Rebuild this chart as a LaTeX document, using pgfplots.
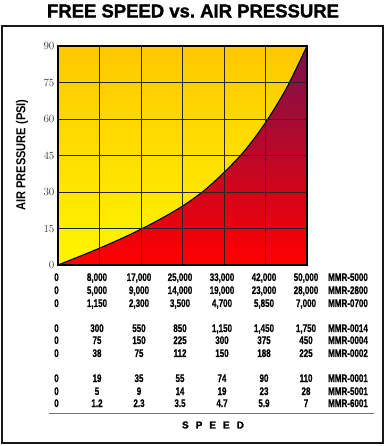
\documentclass[border=0pt]{standalone}
\usepackage{pgfplots}
\pgfplotsset{compat=1.18}
\usepackage{fontspec}
\setmainfont{Liberation Sans}
\newfontfamily\tabfont[FakeStretch=0.73,FakeBold=0.6]{Liberation Sans}
\newfontfamily\labfont[FakeStretch=0.85]{Liberation Sans}
\newfontfamily\titlefont[FakeBold=1.5]{Liberation Sans}
\newfontfamily\seriffont{Liberation Serif}
\definecolor{yellowtop}{HTML}{FFC800}
\definecolor{yellowbot}{HTML}{FFF500}
\definecolor{redtop}{HTML}{78104E}
\definecolor{redbot}{HTML}{FF0000}
\newcommand\row[9]{%
  \node[font=\tabfont\bfseries\fontsize{11}{11}\selectfont,anchor=base] at (-1.5pt,#1-4pt) {#2};
  \node[font=\tabfont\bfseries\fontsize{11}{11}\selectfont,anchor=base] at (39pt,#1-4pt) {#3};
  \node[font=\tabfont\bfseries\fontsize{11}{11}\selectfont,anchor=base] at (81pt,#1-4pt) {#4};
  \node[font=\tabfont\bfseries\fontsize{11}{11}\selectfont,anchor=base] at (122pt,#1-4pt) {#5};
  \node[font=\tabfont\bfseries\fontsize{11}{11}\selectfont,anchor=base] at (164pt,#1-4pt) {#6};
  \node[font=\tabfont\bfseries\fontsize{11}{11}\selectfont,anchor=base] at (206pt,#1-4pt) {#7};
  \node[font=\tabfont\bfseries\fontsize{11}{11}\selectfont,anchor=base] at (248pt,#1-4pt) {#8};
  \node[font=\tabfont\bfseries\fontsize{11}{11}\selectfont,anchor=base] at (290pt,#1-4pt) {#9};
}
\begin{document}
\begin{tikzpicture}
\useasboundingbox (-58pt,-181pt) rectangle (327pt,265pt);
\begin{axis}[
  at={(0,0)}, anchor=south west, scale only axis,
  width=249pt, height=219pt,
  xmin=0, xmax=6, ymin=0, ymax=90,
  xtick={0,...,6}, xticklabels={},
  ytick={0,15,...,90},
  grid=major,
  grid style={black!85, line width=0.7pt},
  axis line style={line width=1.6pt},
  axis on top,
  tick style={draw=none},
  yticklabel style={font=\seriffont\fontsize{10.5}{10.5}\selectfont, text=black!75},
  axis background/.style={top color=yellowtop, bottom color=yellowbot},
]
\addplot[draw=black, line width=1.1pt, smooth, top color=redtop, bottom color=redbot]
  coordinates {(0,0) (0.5,3.4) (1,6.9) (1.5,10.65) (2,14.7) (2.5,19.2) (3,24.2) (3.5,30.3) (4,38.0) (4.5,47.0) (5,58.5) (5.5,72.5) (6,90)} \closedcycle;
\end{axis}
% title
\node[font=\titlefont\bfseries\fontsize{18.5}{18.5}\selectfont] at (135pt,254pt) {FREE SPEED vs.\ AIR PRESSURE};
% frame
\draw[line width=1.4pt, black!90] (-56pt,-178pt) rectangle (325pt,239pt);
% y label
\node[rotate=90, font=\labfont\bfseries\fontsize{13}{13}\selectfont] at (-36pt,110pt) {AIR PRESSURE (PSI)};
% table
\row{-12pt}{0}{8,000}{17,000}{25,000}{33,000}{42,000}{50,000}{MMR-5000}
\row{-25pt}{0}{5,000}{9,000}{14,000}{19,000}{23,000}{28,000}{MMR-2800}
\row{-38pt}{0}{1,150}{2,300}{3,500}{4,700}{5,850}{7,000}{MMR-0700}
\row{-63pt}{0}{300}{550}{850}{1,150}{1,450}{1,750}{MMR-0014}
\row{-75pt}{0}{75}{150}{225}{300}{375}{450}{MMR-0004}
\row{-88pt}{0}{38}{75}{112}{150}{188}{225}{MMR-0002}
\row{-113pt}{0}{19}{35}{55}{74}{90}{110}{MMR-0001}
\row{-126pt}{0}{5}{9}{14}{19}{23}{28}{MMR-5001}
\row{-138pt}{0}{1.2}{2.3}{3.5}{4.7}{5.9}{7}{MMR-6001}
\draw[black!55, line width=1pt] (-9pt,-148pt) -- (316pt,-148pt);
\node[font=\titlefont\bfseries\fontsize{10}{10}\selectfont] at (155pt,-160pt) {S\hspace{7pt}P\hspace{7pt}E\hspace{7pt}E\hspace{7pt}D};
\end{tikzpicture}
\end{document}
